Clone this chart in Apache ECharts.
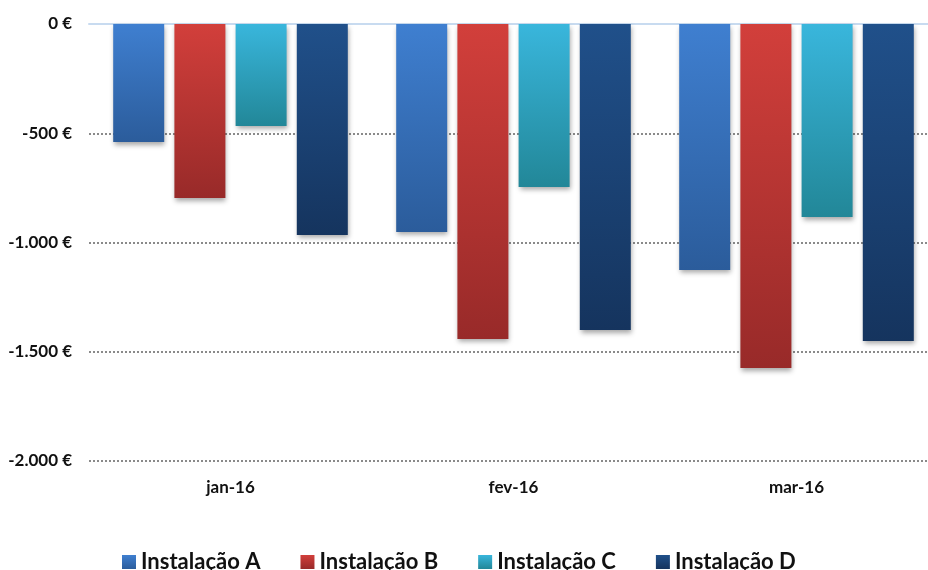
<!DOCTYPE html>
<html>
<head>
<meta charset="utf-8">
<script src="https://cdn.jsdelivr.net/npm/echarts@6/dist/echarts.min.js"></script>
<style>
  html, body { margin: 0; padding: 0; background: #fff; }
  #chart { width: 928px; height: 570px; }
</style>
</head>
<body>
<div id="chart"></div>
<script>
// Monthly results per installation (EUR)
const months = ['jan-16', 'fev-16', 'mar-16'];
const seriesNames = ['Instalação A', 'Instalação B', 'Instalação C', 'Instalação D'];
const instalacaoA = [-540, -952, -1126];
const instalacaoB = [-796, -1442, -1574];
const instalacaoC = [-467, -746, -883];
const instalacaoD = [-966, -1400, -1451];
const yTicks = { min: -2000, max: 0, step: 500 };

const values = [instalacaoA, instalacaoB, instalacaoC, instalacaoD];
const gradients = [
  ['#3f7fd0', '#2b5c9b'],
  ['#d23f3b', '#982a29'],
  ['#39b6dc', '#228798'],
  ['#20508a', '#15345e']
];

function euro(v) {
  const neg = v < 0;
  const s = String(Math.abs(v)).replace(/\B(?=(\d{3})+(?!\d))/g, '.');
  return (neg ? '-' : '') + s + ' €';
}

const font = 'Lato, "Open Sans", sans-serif';

const chart = echarts.init(document.getElementById('chart'), null, { renderer: 'canvas' });
chart.setOption({
  animation: false,
  backgroundColor: '#ffffff',
  // plot area runs slightly past the right edge of the canvas
  grid: { left: 89, width: 849, top: 24, bottom: 109, containLabel: false, outerBoundsMode: 'none' },
  legend: {
    data: seriesNames,
    left: 117,
    top: 546,
    itemWidth: 14,
    itemHeight: 14,
    itemGap: 40,
    icon: 'rect',
    textStyle: { fontFamily: font, fontWeight: 'bold', fontSize: 22, color: '#111' }
  },
  xAxis: [
    {
      type: 'category',
      data: months,
      position: 'bottom',
      axisLine: { show: false, onZero: false },
      axisTick: { show: false },
      axisLabel: { margin: 18, fontFamily: font, fontWeight: 'bold', fontSize: 17, color: '#111' }
    },
    {
      type: 'category',
      data: months,
      position: 'top',
      axisLine: { show: true, onZero: false, lineStyle: { color: '#c8dbf0', width: 2 } },
      axisTick: { show: false },
      axisLabel: { show: false }
    }
  ],
  yAxis: {
    type: 'value',
    min: yTicks.min,
    max: yTicks.max,
    interval: yTicks.step,
    axisLine: { show: false },
    axisTick: { show: false },
    axisLabel: {
      margin: 17,
      formatter: euro,
      fontFamily: font, fontWeight: 'bold', fontSize: 17, color: '#111'
    },
    splitLine: { show: true, lineStyle: { color: '#8a8a8a', type: [2, 2], width: 2 } }
  },
  series: values.map((data, i) => ({
    name: seriesNames[i],
    type: 'bar',
    xAxisIndex: 0,
    data: data,
    barWidth: 51,
    barGap: '20%',
    itemStyle: {
      color: new echarts.graphic.LinearGradient(0, 0, 0, 1, [
        { offset: 0, color: gradients[i][0] },
        { offset: 1, color: gradients[i][1] }
      ]),
      shadowColor: 'rgba(0,0,0,0.35)',
      shadowBlur: 5,
      shadowOffsetY: 3,
      shadowOffsetX: 1
    }
  }))
});
</script>
</body>
</html>
